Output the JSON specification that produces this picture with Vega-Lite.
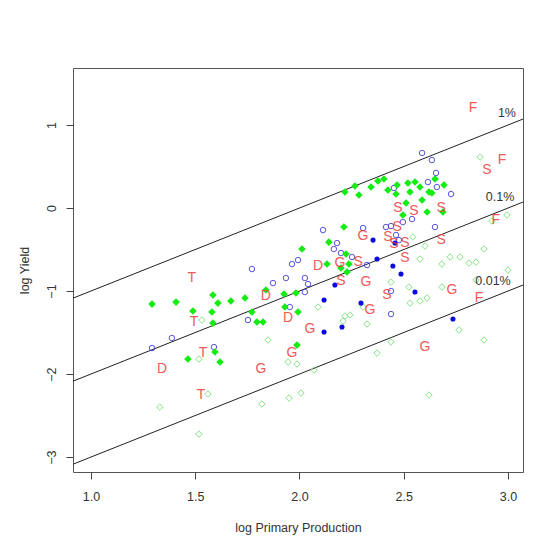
{
  "$schema": "https://vega.github.io/schema/vega-lite/v6.json",
  "width": 450,
  "height": 404,
  "autosize": "none",
  "padding": {"left": 73, "top": 68, "right": 16, "bottom": 76},
  "background": "white",
  "config": {
    "view": {"stroke": "#555", "strokeWidth": 1},
    "font": "Liberation Sans"
  },
  "datasets": {
    "lines": [
      {"line": "1%", "x": 0.914, "y": -1.086}, {"line": "1%", "x": 3.072, "y": 1.072},
      {"line": "0.1%", "x": 0.914, "y": -2.086}, {"line": "0.1%", "x": 3.072, "y": 0.072},
      {"line": "0.01%", "x": 0.914, "y": -3.086}, {"line": "0.01%", "x": 3.072, "y": -0.928}
    ],
    "lineLabels": [
      {"lab": "1%", "x": 2.995, "y": 1.145},
      {"lab": "0.1%", "x": 2.962, "y": 0.133},
      {"lab": "0.01%", "x": 2.928, "y": -0.88}
    ],
    "greenFilled": [
      {"x": 2.218, "y": 0.193}, {"x": 2.266, "y": 0.265}, {"x": 2.285, "y": 0.157}, {"x": 2.343, "y": 0.253},
      {"x": 2.376, "y": 0.325}, {"x": 2.405, "y": 0.349}, {"x": 2.424, "y": 0.217}, {"x": 2.463, "y": 0.169},
      {"x": 2.468, "y": 0.277}, {"x": 2.52, "y": 0.301}, {"x": 2.53, "y": 0.193}, {"x": 2.554, "y": 0.313},
      {"x": 2.578, "y": 0.253}, {"x": 2.621, "y": 0.193}, {"x": 2.65, "y": 0.349}, {"x": 2.693, "y": 0.277},
      {"x": 2.635, "y": 0.181}, {"x": 2.511, "y": 0.06}, {"x": 2.588, "y": 0.096}, {"x": 2.496, "y": -0.084},
      {"x": 2.612, "y": -0.048}, {"x": 2.688, "y": -0.048}, {"x": 2.213, "y": -0.229}, {"x": 2.141, "y": -0.41},
      {"x": 2.012, "y": -0.494}, {"x": 2.223, "y": -0.554}, {"x": 2.132, "y": -0.675}, {"x": 2.237, "y": -0.675},
      {"x": 2.199, "y": -0.723}, {"x": 2.228, "y": -0.771}, {"x": 1.293, "y": -1.157}, {"x": 1.408, "y": -1.133},
      {"x": 1.489, "y": -1.241}, {"x": 1.585, "y": -1.048}, {"x": 1.609, "y": -1.145}, {"x": 1.671, "y": -1.12},
      {"x": 1.739, "y": -1.084}, {"x": 1.58, "y": -1.253}, {"x": 1.585, "y": -1.386}, {"x": 1.772, "y": -1.253},
      {"x": 1.796, "y": -1.373}, {"x": 1.825, "y": -1.373}, {"x": 1.839, "y": -0.988}, {"x": 1.926, "y": -1.036},
      {"x": 1.983, "y": -1.024}, {"x": 1.93, "y": -1.193}, {"x": 1.993, "y": -1.253}, {"x": 1.465, "y": -1.819},
      {"x": 1.595, "y": -1.735}, {"x": 1.619, "y": -1.855}, {"x": 1.988, "y": -1.651}
    ],
    "blueOpen": [
      {"x": 2.588, "y": 0.663}, {"x": 2.635, "y": 0.578}, {"x": 2.655, "y": 0.422}, {"x": 2.659, "y": 0.253},
      {"x": 2.616, "y": 0.313}, {"x": 2.727, "y": 0.169}, {"x": 2.453, "y": 0.241}, {"x": 2.113, "y": -0.265},
      {"x": 2.305, "y": -0.241}, {"x": 2.415, "y": -0.229}, {"x": 2.439, "y": -0.217}, {"x": 2.463, "y": -0.325},
      {"x": 2.496, "y": -0.169}, {"x": 2.54, "y": -0.133}, {"x": 2.65, "y": -0.229}, {"x": 2.18, "y": -0.422},
      {"x": 2.165, "y": -0.494}, {"x": 2.199, "y": -0.542}, {"x": 2.252, "y": -0.59}, {"x": 1.964, "y": -0.675},
      {"x": 1.993, "y": -0.627}, {"x": 2.324, "y": -0.687}, {"x": 1.935, "y": -0.843}, {"x": 2.026, "y": -0.843},
      {"x": 2.041, "y": -0.916}, {"x": 2.026, "y": -1.012}, {"x": 1.954, "y": -1.193}, {"x": 2.439, "y": -1.0},
      {"x": 2.439, "y": -1.277}, {"x": 1.772, "y": -0.735}, {"x": 1.873, "y": -0.904}, {"x": 1.753, "y": -1.349},
      {"x": 1.59, "y": -1.675}, {"x": 1.293, "y": -1.687}, {"x": 1.388, "y": -1.566}, {"x": 2.477, "y": -0.386}
    ],
    "blueFilled": [
      {"x": 2.353, "y": -0.386}, {"x": 2.372, "y": -0.614}, {"x": 2.448, "y": -0.699}, {"x": 2.487, "y": -0.795},
      {"x": 2.17, "y": -0.928}, {"x": 2.118, "y": -1.108}, {"x": 2.295, "y": -1.145}, {"x": 2.554, "y": -1.012},
      {"x": 2.118, "y": -1.494}, {"x": 2.204, "y": -1.434}, {"x": 2.736, "y": -1.337}, {"x": 2.458, "y": -0.422}
    ],
    "greenOpen": [
      {"x": 2.866, "y": 0.614}, {"x": 2.995, "y": -0.084}, {"x": 2.923, "y": -0.157}, {"x": 2.544, "y": -0.349},
      {"x": 2.602, "y": -0.458}, {"x": 2.885, "y": -0.494}, {"x": 2.722, "y": -0.59}, {"x": 2.683, "y": -0.675},
      {"x": 2.77, "y": -0.59}, {"x": 2.813, "y": -0.663}, {"x": 2.847, "y": -0.651}, {"x": 3.0, "y": -0.747},
      {"x": 2.578, "y": -0.614}, {"x": 2.439, "y": -0.892}, {"x": 2.525, "y": -0.952}, {"x": 2.683, "y": -0.952},
      {"x": 2.847, "y": -0.867}, {"x": 2.612, "y": -1.084}, {"x": 2.578, "y": -1.12}, {"x": 2.53, "y": -1.145},
      {"x": 2.305, "y": -1.193}, {"x": 2.089, "y": -1.193}, {"x": 2.218, "y": -1.301}, {"x": 2.242, "y": -1.289},
      {"x": 2.209, "y": -1.361}, {"x": 2.324, "y": -1.398}, {"x": 2.765, "y": -1.47}, {"x": 2.885, "y": -1.59},
      {"x": 2.439, "y": -1.614}, {"x": 2.372, "y": -1.747}, {"x": 1.945, "y": -1.855}, {"x": 1.988, "y": -1.88},
      {"x": 2.07, "y": -1.952}, {"x": 1.95, "y": -2.289}, {"x": 2.007, "y": -2.229}, {"x": 2.621, "y": -2.253},
      {"x": 1.532, "y": -1.349}, {"x": 1.849, "y": -1.59}, {"x": 1.518, "y": -1.819}, {"x": 1.561, "y": -2.241},
      {"x": 1.331, "y": -2.398}, {"x": 1.82, "y": -2.361}, {"x": 1.518, "y": -2.723}
    ],
    "letters": [
      {"lab": "T", "x": 1.484, "y": -0.843}, {"lab": "T", "x": 1.494, "y": -1.373}, {"lab": "T", "x": 1.537, "y": -1.747}, {"lab": "T", "x": 1.528, "y": -2.253},
      {"lab": "D", "x": 2.089, "y": -0.699}, {"lab": "D", "x": 1.839, "y": -1.06}, {"lab": "D", "x": 1.945, "y": -1.325}, {"lab": "D", "x": 1.341, "y": -1.94},
      {"lab": "G", "x": 2.305, "y": -0.337}, {"lab": "G", "x": 2.194, "y": -0.663}, {"lab": "G", "x": 2.319, "y": -0.892}, {"lab": "G", "x": 2.338, "y": -1.229},
      {"lab": "G", "x": 2.05, "y": -1.458}, {"lab": "G", "x": 1.964, "y": -1.747}, {"lab": "G", "x": 1.815, "y": -1.94}, {"lab": "G", "x": 2.731, "y": -0.988},
      {"lab": "G", "x": 2.602, "y": -1.675},
      {"lab": "S", "x": 2.472, "y": 0.0}, {"lab": "S", "x": 2.549, "y": -0.036}, {"lab": "S", "x": 2.679, "y": 0.0}, {"lab": "S", "x": 2.468, "y": -0.229},
      {"lab": "S", "x": 2.424, "y": -0.349}, {"lab": "S", "x": 2.506, "y": -0.422}, {"lab": "S", "x": 2.679, "y": -0.386}, {"lab": "S", "x": 2.506, "y": -0.602},
      {"lab": "S", "x": 2.281, "y": -0.651}, {"lab": "S", "x": 2.199, "y": -0.88}, {"lab": "S", "x": 2.42, "y": -1.048}, {"lab": "S", "x": 2.899, "y": 0.458},
      {"lab": "S", "x": 2.453, "y": -0.434},
      {"lab": "F", "x": 2.832, "y": 1.205}, {"lab": "F", "x": 2.971, "y": 0.578}, {"lab": "F", "x": 2.942, "y": -0.145}, {"lab": "F", "x": 2.861, "y": -1.084}
    ]
  },
  "encoding": {
    "x": {
      "field": "x", "type": "quantitative",
      "scale": {"domain": [0.914, 3.072], "nice": false, "zero": false},
      "axis": {
        "values": [1, 1.5, 2, 2.5, 3], "format": ".1f", "title": "log Primary Production",
        "grid": false, "domain": false, "tickSize": 7, "tickColor": "#444",
        "labelFontSize": 12.5, "labelColor": "#333", "labelPadding": 11, "labelFont": "Liberation Sans",
        "titleFontSize": 12.5, "titleFontWeight": "normal", "titleColor": "#333", "titlePadding": 19, "titleFont": "Liberation Sans"
      }
    },
    "y": {
      "field": "y", "type": "quantitative",
      "scale": {"domain": [-3.18, 1.687], "nice": false, "zero": false},
      "axis": {
        "values": [-3, -2, -1, 0, 1], "format": "d", "title": "log Yield",
        "grid": false, "domain": false, "tickSize": 7, "tickColor": "#444",
        "labelAngle": -90, "labelAlign": "center", "labelBaseline": "bottom",
        "labelFontSize": 12.5, "labelColor": "#333", "labelPadding": 8, "labelFont": "Liberation Sans",
        "titleFontSize": 12.5, "titleFontWeight": "normal", "titleColor": "#333", "titlePadding": 14, "titleFont": "Liberation Sans"
      }
    }
  },
  "layer": [
    {
      "data": {"name": "lines"},
      "mark": {"type": "line", "color": "#222", "strokeWidth": 1, "clip": true},
      "encoding": {"detail": {"field": "line"}}
    },
    {
      "data": {"name": "greenOpen"},
      "mark": {"type": "point", "shape": "diamond", "filled": false, "color": "#86e586", "size": 42, "strokeWidth": 1, "opacity": 1}
    },
    {
      "data": {"name": "blueOpen"},
      "mark": {"type": "point", "shape": "circle", "filled": false, "color": "#4343d8", "size": 30, "strokeWidth": 1, "opacity": 0.9}
    },
    {
      "data": {"name": "greenFilled"},
      "mark": {"type": "point", "shape": "diamond", "filled": true, "color": "#14ec14", "size": 58, "opacity": 1}
    },
    {
      "data": {"name": "blueFilled"},
      "mark": {"type": "point", "shape": "circle", "filled": true, "color": "#0a0ae0", "size": 26, "opacity": 1}
    },
    {
      "data": {"name": "letters"},
      "mark": {"type": "text", "color": "#ee3b3b", "fontSize": 14, "font": "Liberation Sans", "align": "center", "baseline": "middle", "opacity": 0.85},
      "encoding": {"text": {"field": "lab"}}
    },
    {
      "data": {"name": "lineLabels"},
      "mark": {"type": "text", "color": "#333", "fontSize": 12.5, "font": "Liberation Sans", "align": "center", "baseline": "middle"},
      "encoding": {"text": {"field": "lab"}}
    }
  ]
}
